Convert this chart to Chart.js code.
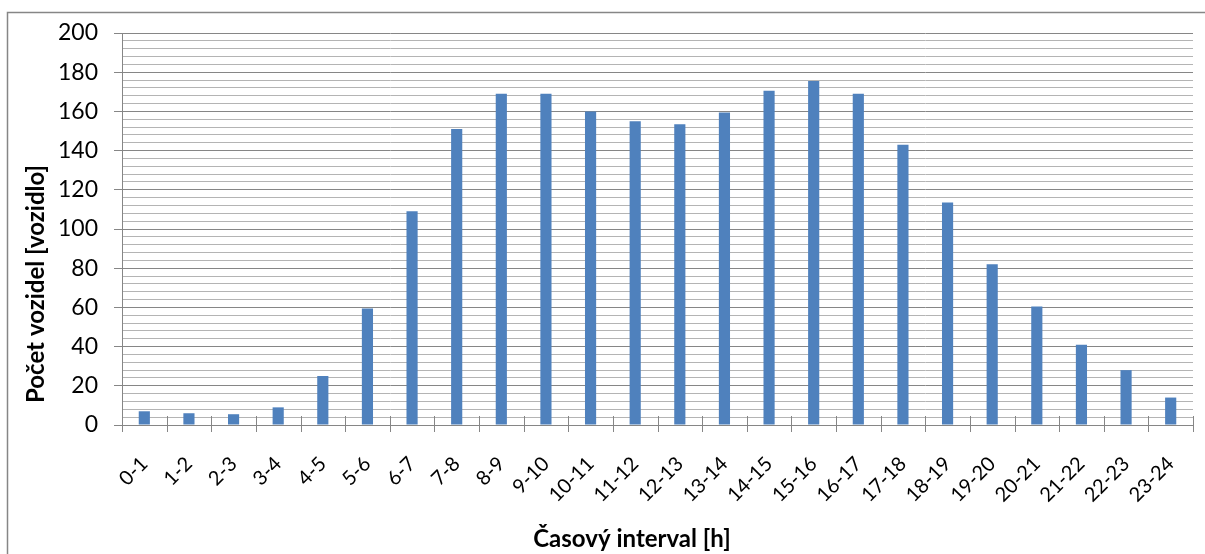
<!DOCTYPE html>
<html>
<head>
<meta charset="utf-8">
<script src="https://cdn.jsdelivr.net/npm/chart.js@4.4.1/dist/chart.umd.min.js"></script>
<style>
  html, body { margin: 0; padding: 0; background: #fff; }
  #wrap { width: 1205px; height: 554px; position: relative; }
</style>
</head>
<body>
<div id="wrap"><canvas id="c"></canvas></div>
<script>
// Hourly traffic counts
const intervals = ['0-1','1-2','2-3','3-4','4-5','5-6','6-7','7-8','8-9','9-10','10-11','11-12',
                   '12-13','13-14','14-15','15-16','16-17','17-18','18-19','19-20','20-21','21-22','22-23','23-24'];
const vehicles = [7, 6, 5.5, 9, 25, 59.5, 109, 151, 169, 169, 160, 155,
                  153.5, 159.5, 170.5, 175.5, 169, 143, 113.5, 82, 60.5, 41, 28, 14];
const yMin = 0, yMax = 200, yMinorStep = 4, yMajorStep = 20;
const xTitle = 'Časový interval [h]';
const yTitle = 'Počet vozidel [vozidlo]';

const FONT = 'Lato, "Open Sans", sans-serif';
const MAJOR = '#868686';
const MINOR = '#b4b4b4';

// Frame, cross tick marks on the category axis and both axis titles
const decorations = {
  id: 'decorations',
  beforeDraw(chart) {
    const ctx = chart.ctx;
    ctx.save();
    ctx.fillStyle = '#fff';
    ctx.fillRect(0, 0, chart.width, chart.height);
    ctx.restore();
  },
  afterDraw(chart) {
    const ctx = chart.ctx;
    const xs = chart.scales.x;
    const ys = chart.scales.y;
    const base = ys.getPixelForValue(0);
    ctx.save();
    // outer frame
    ctx.strokeStyle = MAJOR;
    ctx.lineWidth = 1.5;
    ctx.strokeRect(7.5, 12.5, chart.width + 20, chart.height + 20);
    // tick marks at category boundaries
    ctx.lineWidth = 1;
    const half = (xs.getPixelForValue(1) - xs.getPixelForValue(0)) / 2;
    ctx.beginPath();
    for (let i = 0; i <= intervals.length; i++) {
      const px = Math.round(xs.getPixelForValue(i) - half) + 0.5;
      ctx.moveTo(px, base - 9);
      ctx.lineTo(px, base + 7);
    }
    ctx.stroke();
    // axis titles
    ctx.fillStyle = '#000';
    ctx.font = 'bold 24px ' + FONT;
    ctx.textAlign = 'center';
    ctx.textBaseline = 'middle';
    ctx.fillText(xTitle, 632, 539);
    ctx.translate(36, 284);
    ctx.rotate(-Math.PI / 2);
    ctx.fillText(yTitle, 0, 0);
    ctx.restore();
  }
};

new Chart(document.getElementById('c'), {
  type: 'bar',
  data: {
    labels: intervals,
    datasets: [{
      data: vehicles,
      backgroundColor: '#4f81bd',
      borderWidth: 0,
      categoryPercentage: 1,
      barPercentage: 0.25
    }]
  },
  options: {
    responsive: true,
    maintainAspectRatio: false,
    animation: false,
    devicePixelRatio: 1,
    layout: { padding: { left: 7, top: 33, right: 12, bottom: 0 } },
    plugins: { legend: { display: false }, tooltip: { enabled: false } },
    scales: {
      x: {
        offset: true,
        grid: { display: false, offset: true },
        border: { display: false },
        ticks: {
          color: '#000',
          font: { family: FONT, size: 20 },
          minRotation: 45,
          maxRotation: 45,
          autoSkip: false,
          padding: 19
        },
        afterFit(scale) {
          scale.height = 129;
          scale.paddingLeft = 0;
          scale.paddingRight = 0;
        }
      },
      y: {
        min: yMin,
        max: yMax,
        grid: {
          color: (c) => (c.tick && c.tick.value % yMajorStep === 0) ? MAJOR : MINOR,
          tickColor: (c) => (c.tick && c.tick.value % yMajorStep === 0) ? MAJOR : 'rgba(0,0,0,0)',
          tickLength: 8,
          lineWidth: 1
        },
        border: { display: true, color: MAJOR, width: 1 },
        ticks: {
          stepSize: yMinorStep,
          autoSkip: false,
          color: '#000',
          font: { family: FONT, size: 23 },
          padding: 16,
          callback: (v) => (v % yMajorStep === 0 ? String(v) : '')
        },
        afterFit(scale) { scale.width = 115; }
      }
    }
  },
  plugins: [decorations]
});
</script>
</body>
</html>
